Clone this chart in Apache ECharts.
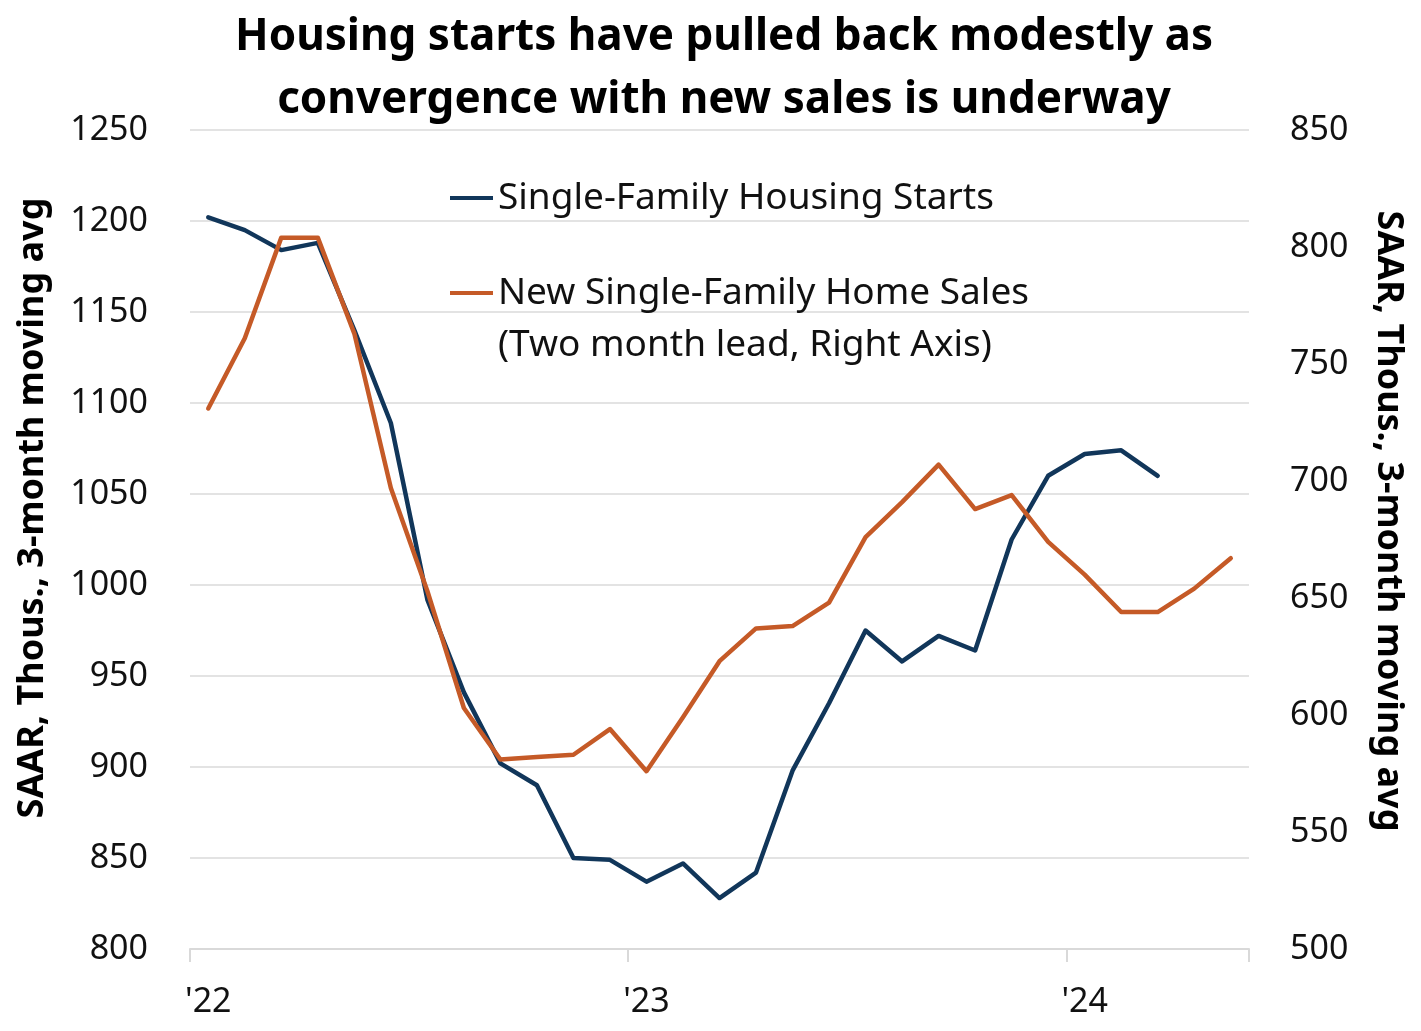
<!DOCTYPE html>
<html>
<head>
<meta charset="utf-8">
<script src="https://cdn.jsdelivr.net/npm/echarts@6/dist/echarts.min.js"></script>
<style>
html,body{margin:0;padding:0;background:#fff;}
#chart{width:1421px;height:1031px;}
</style>
</head>
<body>
<div id="chart"></div>
<script>
// Months Jan 2022 .. May 2024
const categories = [
  "2022-01","2022-02","2022-03","2022-04","2022-05","2022-06","2022-07","2022-08","2022-09","2022-10","2022-11","2022-12",
  "2023-01","2023-02","2023-03","2023-04","2023-05","2023-06","2023-07","2023-08","2023-09","2023-10","2023-11","2023-12",
  "2024-01","2024-02","2024-03","2024-04","2024-05"
];
const yearLabels = ["'22", "'23", "'24"];

const startsName = "Single-Family Housing Starts";
const salesName = "New Single-Family Home Sales";
const salesNote = "(Two month lead, Right Axis)";

// Single-family housing starts, SAAR thous., 3-month moving avg (left axis)
const housingStarts = [1202, 1195, 1184, 1188, 1140, 1089, 992, 941, 902, 890, 850, 849,
  837, 847, 828, 842, 898, 935, 975, 958, 972, 964, 1025, 1060,
  1072, 1074, 1060, null, null];

// New single-family home sales, two month lead (right axis)
const homeSales = [731, 761, 804, 804, 763, 697, 653, 603, 581, 582, 583, 594,
  576, 599, 623, 637, 638, 648, 676, 691, 707, 688, 694, 674,
  660, 644, 644, 654, 667];

const leftTicks = {min: 800, max: 1250, interval: 50};
const rightTicks = {min: 500, max: 850, interval: 50};

const titleText = "Housing starts have pulled back modestly as\nconvergence with new sales is underway";
const axisTitle = "SAAR, Thous., 3-month moving avg";

const FONT = '"Noto Sans", "Open Sans", sans-serif';
const BLUE = '#11365a';
const ORANGE = '#c55a27';

const chart = echarts.init(document.getElementById('chart'), null, {renderer: 'canvas'});

function isYearStart(index) { return index % 12 === 0; }
function plain(v) { return String(v); }

chart.setOption({
  backgroundColor: '#ffffff',
  animation: false,
  textStyle: {fontFamily: FONT},
  grid: {left: 190, right: 172, top: 130, bottom: 82, containLabel: false},
  legend: {
    orient: 'vertical',
    left: 450,
    top: 178,
    padding: 0,
    itemGap: 55,
    itemWidth: 43,
    itemHeight: 4,
    icon: 'rect',
    data: [
      {name: startsName, itemStyle: {color: BLUE}},
      {name: salesName, itemStyle: {color: ORANGE}}
    ],
    textStyle: {fontFamily: FONT, fontSize: 37, color: '#111', lineHeight: 40}
  },
  xAxis: {
    type: 'category',
    data: categories,
    boundaryGap: true,
    axisLine: {show: true, lineStyle: {color: '#d9d9d9', width: 2}},
    axisTick: {show: true, interval: isYearStart, length: 13, lineStyle: {color: '#d9d9d9', width: 2}},
    axisLabel: {
      interval: isYearStart,
      margin: 36,
      fontSize: 34,
      color: '#111',
      fontFamily: FONT,
      formatter: function (v) {
        const y = parseInt(v.slice(0, 4), 10);
        return yearLabels[y - 2022];
      }
    },
    splitLine: {show: false}
  },
  yAxis: [
    {
      type: 'value',
      position: 'left',
      min: leftTicks.min, max: leftTicks.max, interval: leftTicks.interval,
      axisLine: {show: false},
      axisTick: {show: false},
      axisLabel: {fontSize: 34, color: '#111', margin: 42, fontFamily: FONT, formatter: plain},
      splitLine: {show: true, lineStyle: {color: '#e3e3e3', width: 2}}
    },
    {
      type: 'value',
      position: 'right',
      min: rightTicks.min, max: rightTicks.max, interval: rightTicks.interval,
      axisLine: {show: false},
      axisTick: {show: false},
      axisLabel: {fontSize: 34, color: '#111', margin: 41, fontFamily: FONT, formatter: plain},
      splitLine: {show: false}
    }
  ],
  series: [
    {
      name: startsName,
      type: 'line',
      yAxisIndex: 0,
      data: housingStarts,
      symbol: 'none',
      connectNulls: false,
      lineStyle: {color: BLUE, width: 4.5, cap: 'round', join: 'round'},
      itemStyle: {color: BLUE},
      z: 3
    },
    {
      name: salesName,
      type: 'line',
      yAxisIndex: 1,
      data: homeSales,
      symbol: 'none',
      lineStyle: {color: ORANGE, width: 4.5, cap: 'round', join: 'round'},
      itemStyle: {color: ORANGE},
      z: 4
    }
  ],
  graphic: [
    {
      type: 'text',
      x: 724, y: 6,
      style: {
        text: titleText,
        align: 'center', verticalAlign: 'top',
        font: 'bold 44px ' + FONT,
        lineHeight: 63,
        fill: '#000'
      }
    },
    {
      type: 'text',
      x: 498, y: 345,
      style: {
        text: salesNote,
        align: 'left', verticalAlign: 'middle',
        font: '37px ' + FONT,
        fill: '#111'
      }
    },
    {
      type: 'text',
      x: 33, y: 508,
      rotation: Math.PI / 2,
      style: {
        text: axisTitle,
        align: 'center', verticalAlign: 'middle',
        font: 'bold 36px ' + FONT,
        fill: '#000'
      }
    },
    {
      type: 'text',
      x: 1388, y: 521,
      rotation: -Math.PI / 2,
      style: {
        text: axisTitle,
        align: 'center', verticalAlign: 'middle',
        font: 'bold 36px ' + FONT,
        fill: '#000'
      }
    }
  ]
});
</script>
</body>
</html>
